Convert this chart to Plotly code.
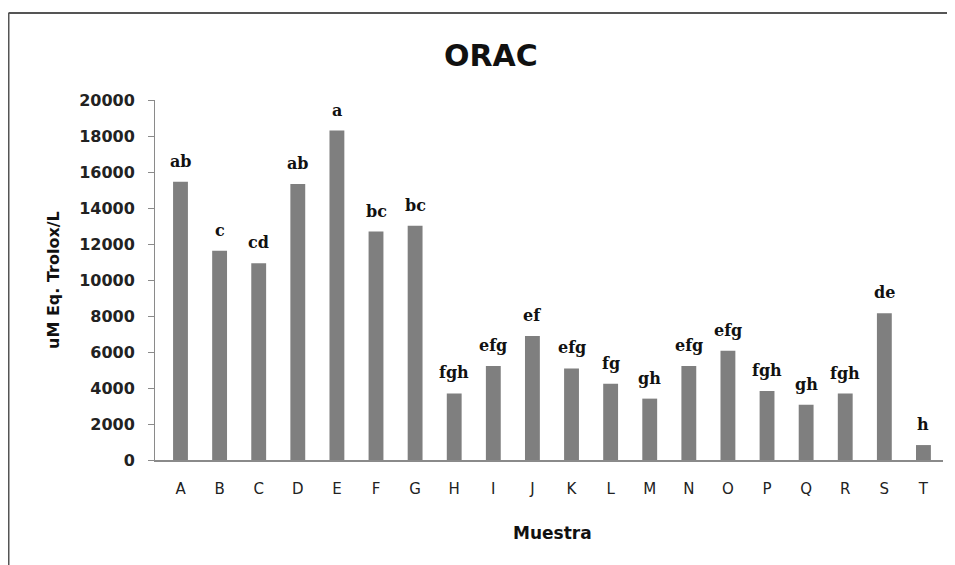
import plotly.graph_objects as go

muestras = ["A", "B", "C", "D", "E", "F", "G", "H", "I", "J",
            "K", "L", "M", "N", "O", "P", "Q", "R", "S", "T"]
orac = [15460, 11630, 10930, 15330, 18300, 12690, 13020, 3700, 5220, 6890,
        5090, 4240, 3410, 5220, 6070, 3830, 3070, 3690, 8150, 830]
letras = ["ab", "c", "cd", "ab", "a", "bc", "bc", "fgh", "efg", "ef",
          "efg", "fg", "gh", "efg", "efg", "fgh", "gh", "fgh", "de", "h"]
y_ticks = [0, 2000, 4000, 6000, 8000, 10000, 12000, 14000, 16000, 18000, 20000]
y_ticktext = [str(v) for v in y_ticks]

# page body has an 8px margin; compensate so the figure lands like the reference
O = 8
W, H = 955 - O, 565 - O
L, R, T, B = 155 - O, 12, 100 - O, 105
pw, ph = W - L - R, H - T - B


def px(x):
    return (x - O - L) / pw


def py(y):
    return (H - B - (y - O)) / ph


fig = go.Figure()
fig.add_trace(go.Bar(
    x=muestras, y=orac,
    marker=dict(color="#7f7f7f", line=dict(width=0)),
    width=0.38, hoverinfo="skip",
))

annotations = [
    dict(x=m, y=v, text=t, xref="x", yref="y", showarrow=False,
         xanchor="center", yanchor="bottom", yshift=9,
         font=dict(family="DejaVu Serif", size=16, color="#111", weight="bold"))
    for m, v, t in zip(muestras, orac, letras)
]
annotations += [
    dict(text="ORAC", x=px(491), y=py(55), xref="paper", yref="paper",
         showarrow=False, xanchor="center", yanchor="middle",
         font=dict(family="DejaVu Sans", size=30, color="#111", weight="bold")),
    dict(text="uM Eq. Trolox/L", x=px(53), y=py(280), xref="paper", yref="paper",
         showarrow=False, xanchor="center", yanchor="middle", textangle=-90,
         font=dict(family="DejaVu Sans", size=16, color="#111", weight="bold")),
    dict(text="Muestra", x=px(552), y=py(533), xref="paper", yref="paper",
         showarrow=False, xanchor="center", yanchor="middle",
         font=dict(family="DejaVu Sans", size=17, color="#111", weight="bold")),
]

fig.update_layout(
    width=W, height=H,
    margin=dict(l=L, r=R, t=T, b=B),
    paper_bgcolor="white", plot_bgcolor="white",
    showlegend=False,
    xaxis=dict(
        range=[-0.652, 19.5], showgrid=False, zeroline=False,
        showline=True, linecolor="#8a8a8a", linewidth=1.5,
        ticks="", tickfont=dict(family="DejaVu Sans", size=15, color="#222"),
        ticklabelstandoff=14,
    ),
    yaxis=dict(
        range=[0, 20000], tickvals=y_ticks, ticktext=y_ticktext,
        showgrid=False, zeroline=False,
        showline=True, linecolor="#8a8a8a", linewidth=1,
        ticks="outside", ticklen=6, tickcolor="#8a8a8a",
        tickfont=dict(family="DejaVu Sans", size=16, color="#222", weight="bold"),
        ticklabelstandoff=10,
    ),
    annotations=annotations,
    shapes=[
        dict(type="line", xref="paper", yref="paper",
             x0=px(8.5), x1=px(8.5), y0=py(13), y1=py(570),
             line=dict(color="#555", width=2)),
        dict(type="line", xref="paper", yref="paper",
             x0=px(8.5), x1=px(960), y0=py(13), y1=py(13),
             line=dict(color="#555", width=2)),
    ],
)

fig.write_html("out.html")
